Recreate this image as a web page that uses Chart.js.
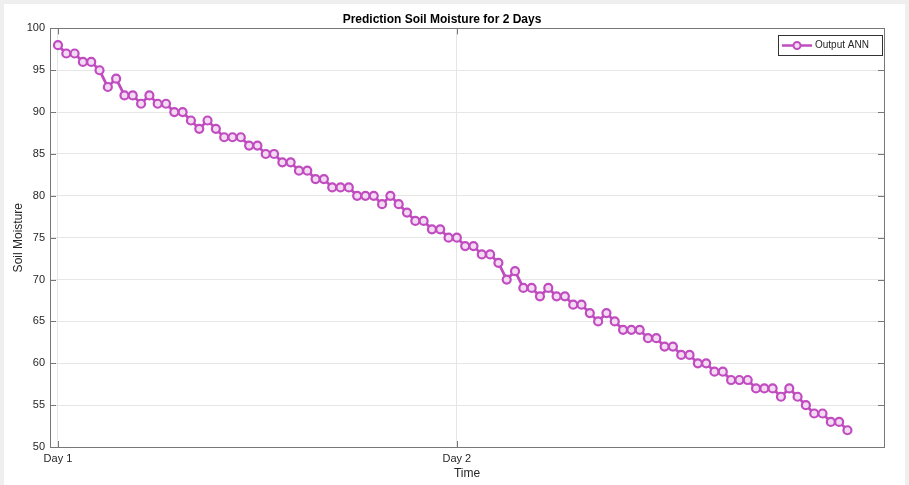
<!DOCTYPE html>
<html>
<head>
<meta charset="utf-8">
<script src="https://cdn.jsdelivr.net/npm/chart.js@4.4.0/dist/chart.umd.min.js"></script>
<style>
  html, body { margin: 0; padding: 0; background: #fff; }
  #wrap { width: 909px; height: 485px; }
</style>
</head>
<body>
<div id="wrap"><canvas id="soilChart" width="909" height="485"></canvas></div>
<script>
// soil moisture prediction, 96 steps (2 days)
const soilValues = [
  98, 97, 97, 96, 96, 95, 93, 94, 92, 92, 91, 92, 91, 91, 90, 90,
  89, 88, 89, 88, 87, 87, 87, 86, 86, 85, 85, 84, 84, 83, 83, 82,
  82, 81, 81, 81, 80, 80, 80, 79, 80, 79, 78, 77, 77, 76, 76, 75,
  75, 74, 74, 73, 73, 72, 70, 71, 69, 69, 68, 69, 68, 68, 67, 67,
  66, 65, 66, 65, 64, 64, 64, 63, 63, 62, 62, 61, 61, 60, 60, 59,
  59, 58, 58, 58, 57, 57, 57, 56, 57, 56, 55, 54, 54, 53, 53, 52
];
const dayTicks = [0, 48];
const dayLabels = ['Day 1', 'Day 2'];
const seriesLabel = 'Output ANN';

const lineColor = '#c04cc0';
const fillColor = '#f3dcf3';
const axisColor = '#777777';
const textColor = '#262626';
const fontFamily = 'Arial, "Liberation Sans", Helvetica, sans-serif';

// frame + inward ticks + box + legend
const matlabLook = {
  id: 'matlabLook',
  beforeDraw(chart) {
    const ctx = chart.ctx;
    ctx.save();
    ctx.fillStyle = '#efefef';
    ctx.fillRect(0, 0, chart.width, chart.height);
    ctx.fillStyle = '#ffffff';
    ctx.fillRect(4, 4, chart.width - 8, chart.height - 4);
    ctx.restore();
  },
  afterDraw(chart) {
    const ctx = chart.ctx;
    const a = chart.chartArea;
    const xs = chart.scales.x, ys = chart.scales.y;
    ctx.save();
    ctx.strokeStyle = axisColor;
    ctx.lineWidth = 1;
    ctx.strokeRect(Math.round(a.left) + 0.5, Math.round(a.top) + 0.5,
      Math.round(a.right - a.left), Math.round(a.bottom - a.top));
    ctx.beginPath();
    ys.ticks.forEach(t => {
      const y = Math.round(ys.getPixelForValue(t.value)) + 0.5;
      ctx.moveTo(a.left, y); ctx.lineTo(a.left + 6, y);
      ctx.moveTo(a.right, y); ctx.lineTo(a.right - 6, y);
    });
    xs.ticks.forEach(t => {
      const x = Math.round(xs.getPixelForValue(t.value)) + 0.5;
      ctx.moveTo(x, a.bottom); ctx.lineTo(x, a.bottom - 6);
      ctx.moveTo(x, a.top); ctx.lineTo(x, a.top + 6);
    });
    ctx.stroke();

    // legend box
    const bx = 778, by = 35, bw = 104, bh = 20;
    ctx.fillStyle = '#ffffff';
    ctx.fillRect(bx, by, bw, bh);
    ctx.strokeStyle = '#333333';
    ctx.strokeRect(bx + 0.5, by + 0.5, bw, bh);
    const cy = by + bh / 2 + 0.5;
    ctx.strokeStyle = lineColor;
    ctx.lineWidth = 2.5;
    ctx.beginPath();
    ctx.moveTo(bx + 4, cy); ctx.lineTo(bx + 34, cy);
    ctx.stroke();
    ctx.lineWidth = 2;
    ctx.fillStyle = fillColor;
    ctx.beginPath();
    ctx.arc(bx + 19, cy, 3.5, 0, Math.PI * 2);
    ctx.fill(); ctx.stroke();
    ctx.fillStyle = textColor;
    ctx.font = '10px ' + fontFamily;
    ctx.textBaseline = 'middle';
    ctx.fillText(seriesLabel, bx + 37, cy);
    ctx.restore();
  }
};

new Chart(document.getElementById('soilChart').getContext('2d'), {
  type: 'line',
  data: {
    datasets: [{
      label: seriesLabel,
      data: soilValues.map((v, i) => ({ x: i, y: v })),
      borderColor: lineColor,
      backgroundColor: fillColor,
      pointBackgroundColor: fillColor,
      pointBorderColor: lineColor,
      pointRadius: 4,
      pointBorderWidth: 2.2,
      borderWidth: 2.8,
      tension: 0,
      fill: false
    }]
  },
  options: {
    responsive: false,
    animation: false,
    layout: { padding: { left: 0, right: 25, top: 0, bottom: 0 } },
    plugins: {
      legend: { display: false },
      tooltip: { enabled: false },
      title: {
        display: true,
        text: 'Prediction Soil Moisture for 2 Days',
        color: '#000',
        font: { family: fontFamily, size: 12, weight: 'bold' },
        padding: { top: 12, bottom: 2 }
      }
    },
    scales: {
      x: {
        type: 'linear',
        min: -0.96,
        max: 99.4,
        afterBuildTicks: s => { s.ticks = dayTicks.map(v => ({ value: v })); },
        afterFit: s => { s.height = 38; },
        ticks: {
          callback: v => dayLabels[dayTicks.indexOf(v)],
          color: textColor,
          font: { family: fontFamily, size: 11 },
          padding: 5,
          maxRotation: 0
        },
        grid: { color: '#e6e6e6', drawTicks: false },
        border: { display: false },
        title: {
          display: true,
          text: 'Time',
          color: textColor,
          font: { family: fontFamily, size: 12 },
          padding: { top: 0, bottom: 4 }
        }
      },
      y: {
        min: 50,
        max: 100,
        afterFit: s => { s.width = 50; },
        ticks: {
          stepSize: 5,
          color: textColor,
          font: { family: fontFamily, size: 11 },
          padding: 5
        },
        grid: { color: '#e6e6e6', drawTicks: false },
        border: { display: false },
        title: {
          display: true,
          text: 'Soil Moisture',
          color: textColor,
          font: { family: fontFamily, size: 12 },
          padding: { top: 11, bottom: 0 }
        }
      }
    }
  },
  plugins: [matlabLook]
});
</script>
</body>
</html>
